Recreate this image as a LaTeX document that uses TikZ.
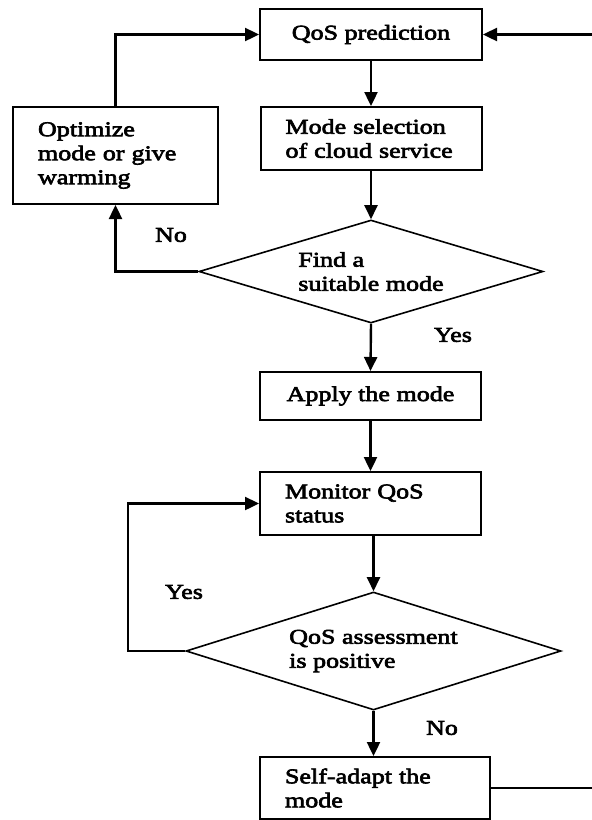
\documentclass[tikz,border=0pt]{standalone}
\usepackage{fontspec}
\setmainfont{Liberation Serif}[FakeStretch=1.24,FakeBold=3]
\usetikzlibrary{arrows.meta,shapes.geometric}
\begin{document}
\begin{tikzpicture}[x=1pt,y=-1pt,
  every node/.style={font=\fontsize{21}{24}\selectfont},
  box/.style={draw,line width=2pt,inner ysep=0pt,inner xsep=25pt,minimum height=#1},
  decide/.style={draw,shape=diamond,line width=1.6pt,inner sep=0pt,align=left},
  conn/.style={line width=2.4pt,-{Triangle[length=14pt,width=13pt]}},
  plain/.style={line width=2.4pt},
  lbl/.style={inner sep=0pt}]
\useasboundingbox (0,0) rectangle (592,820);
\fill[white] (0,0) rectangle (592,820);
% boxes
\node[box=51pt,minimum width=222pt,align=center] (qos) at (371,34.5) {QoS prediction};
\node[box=63pt,text width=171pt,align=left] (mode) at (371,138.5) {Mode selection\\of cloud service};
\node[box=97pt,text width=155pt,align=left] (opt) at (115.5,155.5) {Optimize\\mode or give\\warming};
\node[decide,aspect=3.34,minimum width=344pt,minimum height=103pt] (d1) at (371,271.5) {Find a\\suitable mode};
\node[box=48pt,minimum width=221pt,align=center] (apply) at (370.5,396) {Apply the mode};
\node[box=63pt,text width=171pt,align=left] (mon) at (370.5,503.5) {Monitor QoS\\status};
\node[decide,aspect=3.18,minimum width=375pt,minimum height=118pt] (d2) at (373.5,651) {QoS assessment\\is positive};
\node[box=62pt,text width=180pt,align=left] (self) at (375,788) {Self-adapt the\\mode};
% free ends
\coordinate (rin) at (592,34.5);
\coordinate (rout) at (592,788);
\coordinate (yesturn) at (128,651);
% connectors
\draw[conn] (qos.south) -- (mode.north);
\draw[conn] (mode.south) -- (d1.north);
\draw[conn] (d1.west) -| (opt.south);
\draw[conn] (opt.north) |- (qos.west);
\draw[conn] (rin) -- (qos.east);
\draw[conn] (d1.south) -- (apply.north);
\draw[conn] (apply.south) -- (mon.north);
\draw[conn] (mon.south -| d2.north) -- (d2.north);
\draw[conn] (d2.west) -- (yesturn) |- (mon.west);
\draw[conn] (d2.south) -- (d2.south |- self.north);
\draw[plain] (self.east) -- (rout);
% labels
\node[lbl] (lno1) at (171,235) {No};
\node[lbl] (lyes1) at (453,335) {Yes};
\node[lbl] (lyes2) at (184,592) {Yes};
\node[lbl] (lno2) at (442,728) {No};
\end{tikzpicture}
\end{document}
